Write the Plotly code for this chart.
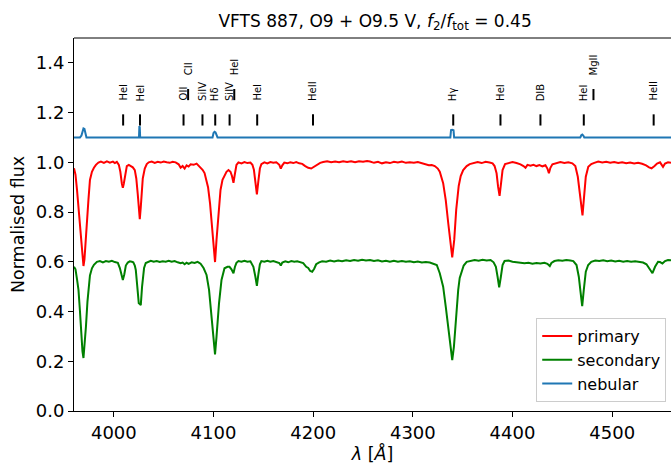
import plotly.graph_objects as go

# Disentangled spectra of VFTS 887 (primary, secondary, nebular component)
wave_primary = [
    3960, 3961.5, 3963, 3964.5, 3966, 3967.5, 3968.7, 3969.5, 3970.5, 3971.5, 3973, 3974.5, 3976, 3978, 3980,
    3982, 3984.5, 3987, 3990, 3993, 3996, 3999, 4001, 4003, 4005, 4006.5, 4008, 4009, 4010, 4011.5, 4013,
    4015, 4017, 4019, 4021, 4022.5, 4024, 4025, 4026, 4027, 4028, 4029, 4031, 4033, 4035, 4038, 4041,
    4044, 4047, 4050, 4053, 4056, 4059, 4062, 4065, 4067, 4069, 4071, 4073, 4075, 4077, 4080, 4083,
    4085, 4087, 4089, 4091, 4093, 4094.5, 4096.5, 4098.5, 4100, 4101.5, 4103, 4105, 4107, 4109, 4111,
    4113, 4115, 4117, 4118.5, 4120, 4121.5, 4123, 4125, 4128, 4131, 4134, 4137, 4139, 4140.5, 4142,
    4143.5, 4145, 4146.5, 4148, 4151, 4154, 4157, 4160, 4163, 4166, 4167.5, 4169, 4171, 4174, 4177,
    4180, 4183, 4186, 4189, 4192, 4195, 4198, 4201, 4204, 4207, 4210, 4214, 4218, 4222, 4226, 4230,
    4234, 4238, 4242, 4246, 4250, 4254, 4257, 4261, 4265, 4269, 4273, 4277, 4281, 4285, 4289, 4293,
    4297, 4301, 4305, 4309, 4313, 4316, 4319, 4322, 4325, 4327, 4330.4, 4333, 4335.5, 4337.5, 4339.5,
    4341.5, 4343.5, 4346, 4348, 4350.5, 4354, 4357, 4361, 4365, 4369, 4373, 4377, 4380, 4382, 4384,
    4385.5, 4387, 4388.5, 4390, 4392.5, 4396, 4400, 4404, 4408, 4411, 4413, 4415, 4418, 4421, 4424,
    4427, 4430, 4433, 4435, 4436.5, 4438, 4440, 4444, 4448, 4452, 4456, 4460, 4463, 4465.5, 4467.5,
    4469, 4470.2, 4471.5, 4473.5, 4476, 4479, 4482, 4486, 4490, 4494, 4498, 4502, 4506, 4510, 4514,
    4518, 4522, 4526, 4530, 4534, 4537, 4539.5, 4542.5, 4545, 4548, 4550, 4551, 4553, 4556, 4559,
]
flux_primary = [
    0.976, 0.950, 0.890, 0.820, 0.755, 0.690, 0.620, 0.583, 0.610, 0.680, 0.756, 0.850, 0.929, 0.962, 0.978,
    0.990, 0.999, 1.003, 0.998, 1.004, 0.999, 1.003, 0.997, 1.002, 0.990, 0.962, 0.915, 0.898, 0.915, 0.960, 0.985,
    0.990, 0.985, 0.980, 0.969, 0.935, 0.870, 0.810, 0.771, 0.820, 0.890, 0.935, 0.975, 0.993, 1.000, 1.003, 0.998,
    1.002, 0.999, 1.003, 1.000, 0.998, 1.002, 1.000, 0.992, 0.978, 0.985, 0.975, 0.988, 0.983, 0.992, 0.990, 0.995,
    0.988, 0.980, 0.970, 0.957, 0.930, 0.900, 0.835, 0.741, 0.647, 0.599, 0.688, 0.795, 0.889, 0.930, 0.950,
    0.962, 0.969, 0.962, 0.945, 0.918, 0.955, 0.990, 1.000, 0.996, 1.001, 0.997, 0.999, 0.990, 0.970, 0.915,
    0.871, 0.925, 0.975, 0.993, 1.000, 0.996, 1.001, 0.998, 1.000, 0.990, 0.975, 0.988, 0.999, 0.996, 1.000,
    0.997, 1.001, 0.996, 0.994, 0.985, 0.978, 0.975, 0.982, 0.992, 0.998, 1.001, 1.004, 1.000, 1.003, 1.000, 1.004,
    1.001, 1.004, 1.000, 1.004, 1.002, 1.005, 1.003, 0.998, 1.002, 0.996, 1.000, 0.997, 1.002, 0.999, 1.003, 0.998,
    1.000, 0.998, 1.001, 0.996, 0.993, 0.988, 0.989, 0.985, 0.975, 0.962, 0.916, 0.848, 0.755, 0.674, 0.618,
    0.688, 0.810, 0.905, 0.945, 0.969, 0.985, 0.993, 0.998, 1.001, 0.997, 1.002, 0.999, 0.996, 0.985, 0.956,
    0.902, 0.865, 0.916, 0.969, 0.993, 0.998, 1.001, 0.997, 0.992, 0.985, 0.978, 0.990, 0.986, 0.990, 0.985,
    0.989, 0.984, 0.988, 0.975, 0.956, 0.978, 0.992, 0.997, 1.001, 0.997, 1.000, 0.996, 0.985, 0.942, 0.875,
    0.822, 0.787, 0.848, 0.942, 0.982, 0.993, 0.998, 1.003, 0.999, 1.002, 0.998, 1.001, 0.997, 1.000, 0.996,
    0.999, 0.995, 0.998, 0.994, 0.988, 0.980, 0.976, 0.985, 0.995, 1.000, 0.990, 0.982, 0.995, 1.000, 0.998,
]

wave_secondary = [
    3960, 3961.5, 3963, 3964.5, 3966, 3967, 3968.5, 3969.5, 3970.5, 3972, 3973.5, 3974.5, 3976, 3978, 3980,
    3983, 3986, 3989, 3992, 3995, 3998, 4001, 4004, 4006, 4007.5, 4009, 4010.5, 4012, 4014, 4016, 4018,
    4019.5, 4021, 4022, 4023.5, 4025, 4026, 4027, 4028.3, 4030.3, 4032, 4034, 4037, 4040, 4043, 4046,
    4049, 4052, 4055, 4058, 4061, 4064, 4067, 4069, 4071, 4073, 4075, 4078, 4081, 4084, 4087, 4090,
    4093, 4095.5, 4098, 4100, 4101.5, 4103, 4105.5, 4108, 4111, 4114, 4116, 4118, 4120, 4121.5, 4123,
    4125, 4128, 4131, 4134, 4137, 4140, 4142, 4143.5, 4145, 4146.5, 4148, 4151, 4154, 4157, 4160, 4163,
    4166, 4167.5, 4169, 4172, 4175, 4178, 4181, 4184, 4187, 4190, 4193, 4195, 4197, 4199, 4201, 4203,
    4206, 4209, 4213, 4217, 4221, 4225, 4229, 4233, 4237, 4241, 4245, 4249, 4253, 4257, 4261, 4265,
    4269, 4273, 4277, 4281, 4285, 4289, 4293, 4297, 4301, 4305, 4309, 4313, 4317, 4320, 4322, 4324,
    4327, 4330.4, 4333, 4335.5, 4337.5, 4339.5, 4341.2, 4343.2, 4345.5, 4347, 4349, 4351, 4354, 4358,
    4362, 4366, 4370, 4374, 4378, 4381, 4383.3, 4385, 4386.6, 4388.3, 4390, 4392, 4396, 4400, 4404,
    4408, 4412, 4416, 4420, 4424, 4428, 4432, 4435, 4437.4, 4439, 4442, 4446, 4450, 4454, 4458, 4461,
    4464.2, 4466.5, 4468.2, 4469.9, 4471.5, 4473.5, 4475.9, 4479, 4483, 4487, 4491, 4495, 4499, 4503,
    4507, 4511, 4515, 4519, 4523, 4527, 4531, 4534.4, 4537.7, 4540.4, 4543, 4546, 4548, 4550.4, 4553,
    4556, 4559,
]
flux_secondary = [
    0.580, 0.570, 0.530, 0.487, 0.400, 0.310, 0.240, 0.213, 0.260, 0.340, 0.440, 0.500, 0.545, 0.574, 0.588,
    0.600, 0.603, 0.598, 0.603, 0.600, 0.604, 0.599, 0.596, 0.575, 0.545, 0.527, 0.550, 0.585, 0.597, 0.602, 0.600,
    0.598, 0.585, 0.567, 0.500, 0.433, 0.430, 0.426, 0.500, 0.575, 0.595, 0.600, 0.604, 0.600, 0.603, 0.599,
    0.602, 0.600, 0.604, 0.600, 0.603, 0.598, 0.594, 0.597, 0.590, 0.596, 0.592, 0.598, 0.595, 0.600, 0.592, 0.575,
    0.547, 0.487, 0.380, 0.285, 0.228, 0.299, 0.433, 0.527, 0.574, 0.580, 0.580, 0.570, 0.554, 0.580, 0.596,
    0.603, 0.600, 0.604, 0.600, 0.602, 0.580, 0.540, 0.503, 0.550, 0.590, 0.603, 0.600, 0.604, 0.600, 0.603, 0.600,
    0.595, 0.585, 0.597, 0.602, 0.598, 0.603, 0.600, 0.602, 0.598, 0.595, 0.580, 0.575, 0.563, 0.560, 0.572, 0.590,
    0.598, 0.602, 0.600, 0.605, 0.601, 0.605, 0.602, 0.606, 0.603, 0.607, 0.604, 0.608, 0.605, 0.607, 0.603, 0.606,
    0.601, 0.604, 0.600, 0.604, 0.600, 0.603, 0.600, 0.602, 0.598, 0.601, 0.597, 0.599, 0.597, 0.594, 0.590, 0.587,
    0.554, 0.500, 0.420, 0.339, 0.259, 0.205, 0.259, 0.380, 0.487, 0.535, 0.560, 0.585, 0.600, 0.605,
    0.607, 0.604, 0.608, 0.605, 0.607, 0.598, 0.580, 0.540, 0.497, 0.540, 0.587, 0.603, 0.605, 0.600, 0.598,
    0.595, 0.594, 0.596, 0.592, 0.595, 0.593, 0.596, 0.592, 0.583, 0.595, 0.603, 0.606, 0.604, 0.607, 0.605, 0.603,
    0.587, 0.540, 0.480, 0.422, 0.487, 0.560, 0.587, 0.600, 0.605, 0.603, 0.606, 0.602, 0.605, 0.601,
    0.604, 0.600, 0.603, 0.600, 0.602, 0.599, 0.597, 0.590, 0.567, 0.554, 0.580, 0.600, 0.599, 0.593, 0.603,
    0.607, 0.606,
]

wave_nebular = [
    3960, 3966, 3967.5, 3968.5, 3969.5, 3970.5, 3971.5, 3972.5, 4025.2, 4025.6, 4026.0, 4026.4,
    4099, 4100, 4101, 4102, 4103, 4104, 4337.6, 4338.3, 4339.5, 4340.8, 4341.4,
    4468, 4469, 4470, 4471, 4472, 4559,
]
flux_nebular = [
    1.100, 1.100, 1.108, 1.128, 1.136, 1.134, 1.115, 1.100, 1.100, 1.146, 1.140, 1.100,
    1.100, 1.118, 1.123, 1.120, 1.108, 1.100, 1.100, 1.130, 1.131, 1.129, 1.100,
    1.100, 1.109, 1.112, 1.108, 1.100, 1.100,
]

# Line identifications; the ones in `raised_lines` sit on a second row
line_wave = [4009.3, 4026.2, 4069.9, 4074.5, 4088.9, 4101.7, 4116.1, 4120.8, 4143.8, 4199.8,
             4340.5, 4387.9, 4428.0, 4471.5, 4481.2, 4541.6]
line_name = ["HeI", "HeI", "OII", "CII", "SiIV", "Hδ", "SiIV", "HeI", "HeI", "HeII",
             "Hγ", "HeI", "DIB", "HeI", "MgII", "HeII"]
raised_lines = {3, 7, 14}

x_ticks = [4000, 4100, 4200, 4300, 4400, 4500]
y_ticks = [0.0, 0.2, 0.4, 0.6, 0.8, 1.0, 1.2, 1.4]

FONT = "DejaVu Sans"

fig = go.Figure()
fig.add_trace(go.Scatter(x=wave_primary, y=flux_primary, mode="lines", name="primary",
                         line=dict(color="#ff0000", width=2)))
fig.add_trace(go.Scatter(x=wave_secondary, y=flux_secondary, mode="lines", name="secondary",
                         line=dict(color="#008000", width=2)))
fig.add_trace(go.Scatter(x=wave_nebular, y=flux_nebular, mode="lines", name="nebular",
                         line=dict(color="#1f77b4", width=2)))

# identification tick marks
tick_x, tick_y = [], []
for i, w in enumerate(line_wave):
    lo, hi = (1.25, 1.295) if i in raised_lines else (1.148, 1.193)
    tick_x += [w, w, None]
    tick_y += [lo, hi, None]
fig.add_trace(go.Scatter(x=tick_x, y=tick_y, mode="lines", showlegend=False, hoverinfo="skip",
                         line=dict(color="black", width=2)))

for i, (w, name) in enumerate(zip(line_wave, line_name)):
    fig.add_annotation(x=w, y=1.345 if i in raised_lines else 1.243, xref="x", yref="y",
                       text=name, textangle=-90, showarrow=False, xanchor="center", yanchor="bottom",
                       borderpad=0, font=dict(family=FONT, size=10, color="black"))

# top spine
fig.add_shape(type="line", xref="paper", yref="paper", x0=0, x1=1, y0=1, y1=1,
              line=dict(color="black", width=1))

fig.update_layout(
    width=671, height=466,
    margin=dict(l=74, r=0, t=38, b=55),
    plot_bgcolor="white", paper_bgcolor="white",
    font=dict(family=FONT, size=18, color="black"),
    title=dict(text="VFTS 887, O9 + O9.5 V, <i>f</i><sub>2</sub>/<i>f</i><sub>tot</sub> = 0.45",
               x=0.559, xanchor="center", y=0.955, yanchor="middle", xref="container", yref="container",
               font=dict(family=FONT, size=17, color="black")),
    legend=dict(x=0.992, y=0.024, xanchor="right", yanchor="bottom",
                bgcolor="rgba(255,255,255,0.8)", bordercolor="#cccccc", borderwidth=1,
                font=dict(family=FONT, size=16, color="black")),
    showlegend=True,
)
fig.update_xaxes(range=[3960, 4559], tickvals=x_ticks, ticks="outside", ticklen=5, tickwidth=1,
                 tickcolor="black", showline=True, linecolor="black", linewidth=1, showgrid=False,
                 zeroline=False,
                 title=dict(text="<i>λ</i> [<i>Å</i>]", standoff=2, font=dict(family=FONT, size=17.5)),
                 tickfont=dict(size=18))
fig.update_yaxes(range=[0, 1.5], tickvals=y_ticks, tickformat=".1f", ticks="outside", ticklen=5,
                 tickwidth=1, tickcolor="black", showline=True, linecolor="black", linewidth=1,
                 showgrid=False, zeroline=False,
                 title=dict(text="Normalised flux", standoff=6, font=dict(family=FONT, size=17.5)),
                 tickfont=dict(size=18))

fig.write_html("out.html")
